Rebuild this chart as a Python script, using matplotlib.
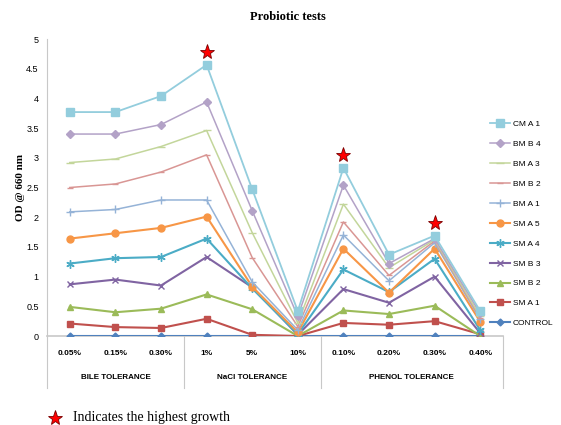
import matplotlib
matplotlib.use("Agg")
import matplotlib.pyplot as plt

# ---- DATA ----
categories = ["0.05%", "0.15%", "0.30%", "1%", "5%", "10%",
              "0.10%", "0.20%", "0.30%", "0.40%"]
groups = ["BILE TOLERANCE", "NaCl TOLERANCE", "PHENOL TOLERANCE"]
group_spans = [(0, 2), (3, 5), (6, 9)]

control = [0, 0, 0, 0, 0, 0, 0, 0, 0, 0]
sma1 = [0.21, 0.15, 0.135, 0.29, 0.02, 0.0, 0.22, 0.19, 0.25, 0.03]
smb2 = [0.49, 0.40, 0.46, 0.70, 0.45, 0.0, 0.43, 0.37, 0.51, 0.0]
smb3 = [0.87, 0.95, 0.85, 1.33, 0.82, 0.02, 0.79, 0.56, 1.00, 0.05]
sma4 = [1.22, 1.31, 1.33, 1.64, 0.80, 0.03, 1.12, 0.74, 1.30, 0.10]
sma5 = [1.64, 1.73, 1.82, 2.01, 0.83, 0.06, 1.47, 0.73, 1.47, 0.24]
bma1 = [2.09, 2.13, 2.29, 2.29, 0.91, 0.10, 1.70, 0.93, 1.57, 0.28]
bmb2 = [2.50, 2.56, 2.76, 3.05, 1.32, 0.16, 1.92, 1.02, 1.60, 0.30]
bma3 = [2.92, 2.98, 3.19, 3.46, 1.74, 0.22, 2.22, 1.15, 1.62, 0.33]
bmb4 = [3.40, 3.40, 3.56, 3.94, 2.11, 0.33, 2.54, 1.22, 1.64, 0.38]
cma1 = [3.77, 3.77, 4.04, 4.565, 2.47, 0.42, 2.83, 1.37, 1.69, 0.42]

star_idx = [3, 6, 8]   # where highest growth is flagged
star_gap = 0.22

series = [
    ("CONTROL", control, "#4F81BD", "D", 3.5, 1.5),
    ("SM A 1", sma1, "#C0504D", "s", 5, 1.5),
    ("SM B 2", smb2, "#9BBB59", "^", 5, 1.5),
    ("SM B 3", smb3, "#8064A2", "x", 5, 1.5),
    ("SM A 4", sma4, "#4BACC6", (6, 2, 0), 6, 1.5),
    ("SM A 5", sma5, "#F79646", "o", 5, 1.5),
    ("BM A 1", bma1, "#95B3D7", "+", 6, 1.1),
    ("BM B 2", bmb2, "#D99694", "_", 5, 1.1),
    ("BM A 3", bma3, "#C3D69B", "_", 6, 1.1),
    ("BM B 4", bmb4, "#B3A2C7", "D", 4, 1.1),
    ("CM A 1", cma1, "#93CDDD", "s", 5.5, 1.3),
]

fig = plt.figure(figsize=(5.61, 4.25), dpi=100)
ax = fig.add_axes([0.0838, 0.2094, 0.8128, 0.6988])

x = list(range(len(categories)))
handles = []
for name, vals, col, mk, ms, lw in series:
    (h,) = ax.plot(x, vals, color=col, marker=mk, markersize=ms, linewidth=lw,
                   markeredgecolor=col, markeredgewidth=1.0, label=name, zorder=3)
    handles.append(h)

# stars over the highest growth points
ax.plot([x[i] for i in star_idx], [cma1[i] + star_gap for i in star_idx],
        linestyle="none", marker="*", markersize=11, markerfacecolor="red",
        markeredgecolor="#7a0000", markeredgewidth=0.6, clip_on=False, zorder=5)

ax.set_xlim(-0.5, len(categories) - 0.5)
ax.set_ylim(0, 5)
ax.set_yticks([0, 0.5, 1, 1.5, 2, 2.5, 3, 3.5, 4, 4.5, 5])
ax.set_yticklabels(["0", "0.5", "1", "1.5", "2", "2.5", "3", "3.5", "4", "4.5", "5"],
                   fontsize=6.5, family="Liberation Sans")
ax.set_xticks(x)
ax.set_xticklabels(categories, fontsize=6, family="Liberation Sans", fontweight="bold")
ax.tick_params(axis="both", length=0)
ax.tick_params(axis="x", pad=10)
ax.tick_params(axis="y", pad=6)

for s in ["top", "right"]:
    ax.spines[s].set_visible(False)
ax.spines["left"].set_color("#c8c8c8")
ax.spines["bottom"].set_color("#c8c8c8")
ax.spines["bottom"].set_linewidth(1.2)

# group separators and labels under the axis
tr = ax.get_xaxis_transform()
for b in [-0.5, 2.5, 5.5, 9.5]:
    ax.plot([b, b], [0, -0.175], transform=tr, color="#c8c8c8", lw=0.8, clip_on=False)
for g, (a, b) in zip(groups, group_spans):
    ax.text((a + b) / 2, -0.141, g, transform=tr, ha="center", va="center",
            fontsize=5.8, family="Liberation Sans", fontweight="bold")

ax.set_ylabel("OD @ 660 nm", fontsize=8, family="Liberation Serif",
              fontweight="bold", labelpad=1)
fig.text(0.513, 0.96, "Probiotic tests", ha="center", va="center", fontsize=9,
         family="Liberation Serif", fontweight="bold")

leg = fig.legend(handles=handles[::-1], loc="upper left",
                 bbox_to_anchor=(0.873, 0.717), frameon=False,
                 prop={"family": "Liberation Sans", "size": 6},
                 handlelength=2.4, handletextpad=0.35, labelspacing=1.45,
                 borderaxespad=0, borderpad=0)

# footnote
fig.lines.append(plt.Line2D([55 / 561], [1 - 418 / 425], transform=fig.transFigure,
                            marker="*", markersize=11, markerfacecolor="red",
                            markeredgecolor="#7a0000", markeredgewidth=0.6,
                            linestyle="none"))
fig.text(73 / 561, 1 - 418 / 425, "Indicates the highest growth", ha="left",
         va="center", fontsize=10, family="Liberation Serif")

fig.savefig("out.png", dpi=100)
